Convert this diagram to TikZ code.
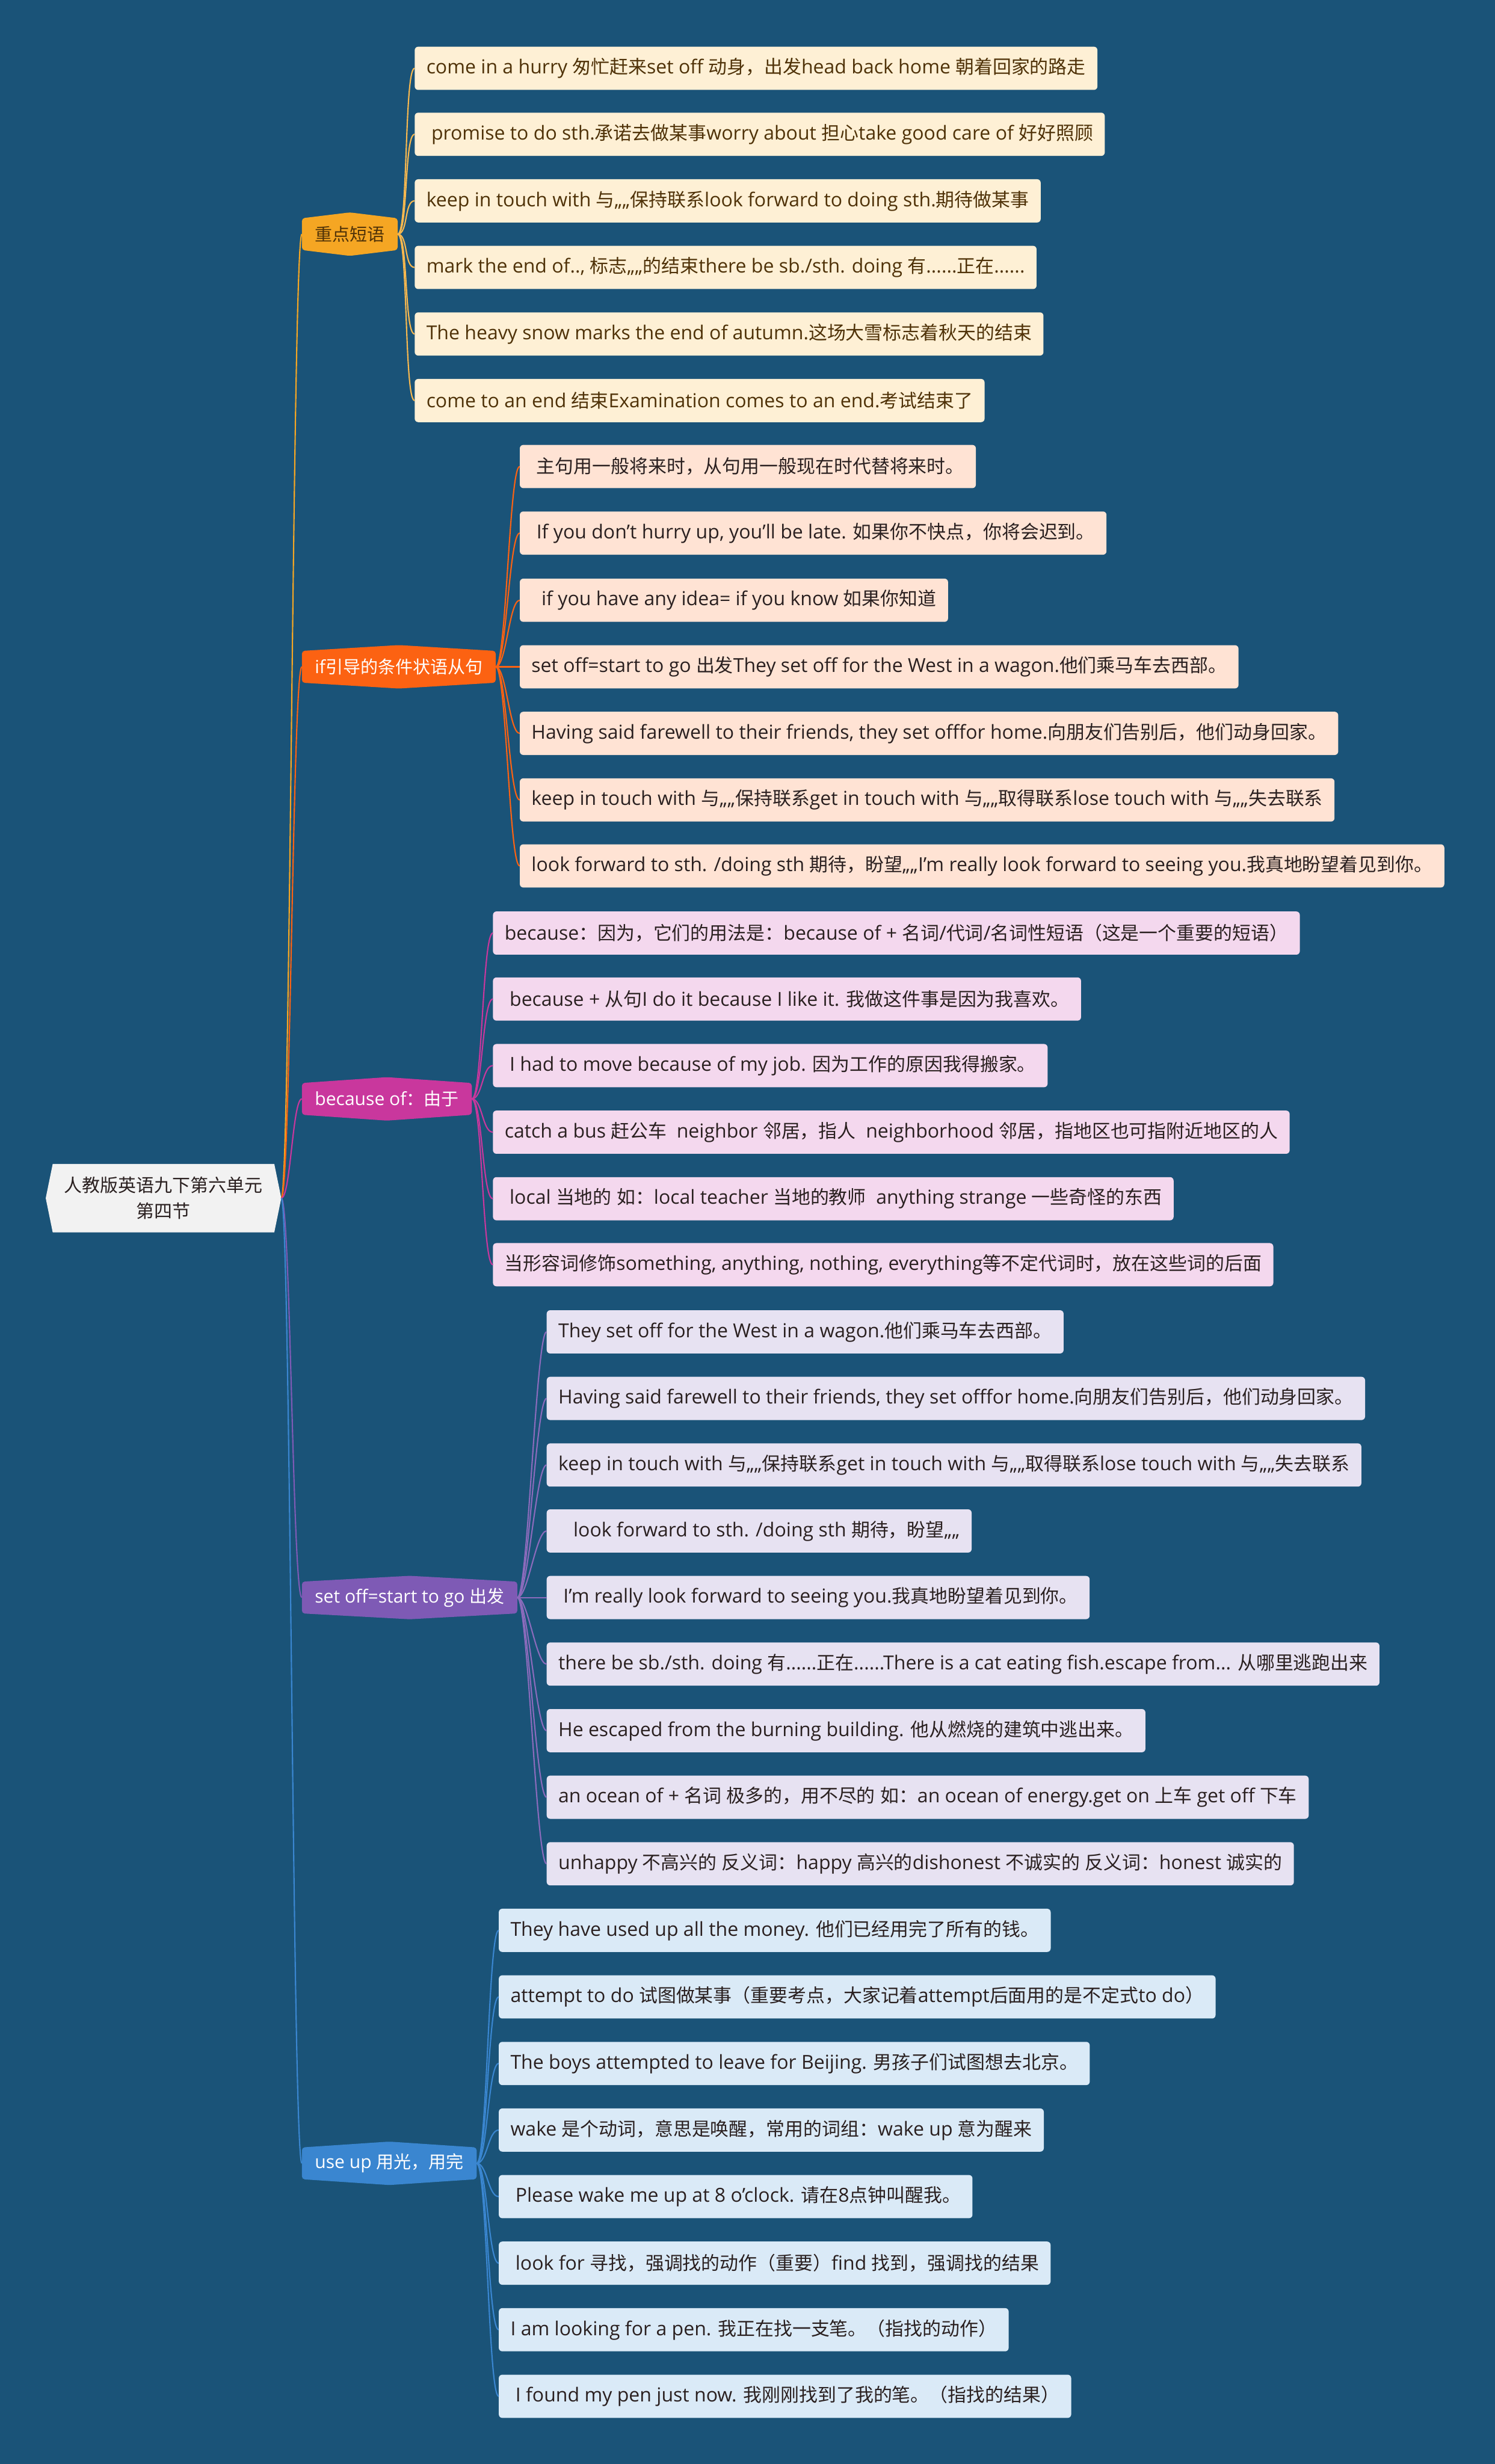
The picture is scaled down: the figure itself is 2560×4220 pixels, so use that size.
\documentclass[tikz,border=0pt]{standalone}
\usepackage{fontspec}
\setmainfont{Open Sans}
\newfontfamily\cjkfont{Noto Sans CJK SC}[Scale=0.965]
% CJK text in Noto, the rest in Open Sans
\XeTeXinterchartokenstate=1
\newXeTeXintercharclass\cjkcls
\newcount\cjkc
\cjkc="2E80 \loop\ifnum\cjkc<"A000 \XeTeXcharclass\cjkc=\cjkcls \advance\cjkc by 1 \repeat
\cjkc="FF00 \loop\ifnum\cjkc<"FFF0 \XeTeXcharclass\cjkc=\cjkcls \advance\cjkc by 1 \repeat
\XeTeXcharclass"201E=0
\XeTeXinterchartoks 0 \cjkcls = {\begingroup\cjkfont}
\XeTeXinterchartoks 4095 \cjkcls = {\begingroup\cjkfont}
\XeTeXinterchartoks \cjkcls 0 = {\endgroup}
\XeTeXinterchartoks \cjkcls 4095 = {\endgroup}
\usepackage{xcolor}
\usepackage{tikz}
\usetikzlibrary{backgrounds}
\definecolor{bgx}{HTML}{1A5378}
\definecolor{rootx}{HTML}{F2F2F2}
\definecolor{orangex}{HTML}{F5A623}
\definecolor{flamex}{HTML}{FC6212}
\definecolor{magentax}{HTML}{C9379D}
\definecolor{violetx}{HTML}{7E5AB5}
\definecolor{azurex}{HTML}{3A86D0}
\definecolor{creamx}{HTML}{FEF0D5}
\definecolor{peachx}{HTML}{FFE3D4}
\definecolor{pinkx}{HTML}{F4D8EE}
\definecolor{lilacx}{HTML}{E7E2F2}
\definecolor{icex}{HTML}{DAEAF7}
\definecolor{brownx}{HTML}{4F3208}
\definecolor{inkx}{HTML}{2A2020}
\tikzset{
  ln/.style={line width=2.2pt},
  hub/.style={anchor=west,minimum height=54pt,inner xsep=22pt,font=\fontsize{31pt}{37pt}\selectfont},
  leaf/.style={anchor=west,minimum height=74pt,inner xsep=20pt,rounded corners=6pt,text=inkx,font=\fontsize{33pt}{40pt}\selectfont}
}
\begin{document}
\begin{tikzpicture}[x=1pt,y=-1pt]
\useasboundingbox (0,0) rectangle (2560,4220);
\begin{scope}[on background layer]
\fill[bgx] (0,0) rectangle (2560,4220);
\end{scope}
% root
\node[minimum width=379pt,minimum height=117pt,align=center,text=inkx,font=\fontsize{32pt}{44pt}\selectfont] (rt) at (280,2052) {人教版英语九下第六单元\\第四节};
\coordinate (rtx) at ([xshift=12pt]rt.east);
\begin{scope}[on background layer]
\fill[rootx] (rt.north west) -- (rt.north east) -- (rtx) -- (rt.south east) -- (rt.south west) -- ([xshift=-12pt]rt.west) -- cycle;
\end{scope}
% branches
\node[hub,text=brownx] (hb1) at (517,401) {重点短语};
\node[hub,text=white] (hb2) at (517,1142) {if引导的条件状语从句};
\node[hub,text=white] (hb3) at (517,1882) {because of：由于};
\node[hub,text=white] (hb4) at (517,2736) {set off=start to go 出发};
\node[hub,text=white] (hb5) at (517,3705) {use up 用光，用完};
\begin{scope}[on background layer,rounded corners=5pt]
\fill[orangex] (hb1.north west) -- ([yshift=10pt]hb1.north) -- (hb1.north east) -- (hb1.south east) -- ([yshift=-10pt]hb1.south) -- (hb1.south west) -- cycle;
\fill[flamex] (hb2.north west) -- ([yshift=10pt]hb2.north) -- (hb2.north east) -- (hb2.south east) -- ([yshift=-10pt]hb2.south) -- (hb2.south west) -- cycle;
\fill[magentax] (hb3.north west) -- ([yshift=10pt]hb3.north) -- (hb3.north east) -- (hb3.south east) -- ([yshift=-10pt]hb3.south) -- (hb3.south west) -- cycle;
\fill[violetx] (hb4.north west) -- ([yshift=10pt]hb4.north) -- (hb4.north east) -- (hb4.south east) -- ([yshift=-10pt]hb4.south) -- (hb4.south west) -- cycle;
\fill[azurex] (hb5.north west) -- ([yshift=10pt]hb5.north) -- (hb5.north east) -- (hb5.south east) -- ([yshift=-10pt]hb5.south) -- (hb5.south west) -- cycle;
\end{scope}
\draw[ln,orangex] (rtx) .. controls +(16,0) and +(-16,0) .. (hb1.west);
\draw[ln,flamex] (rtx) .. controls +(16,0) and +(-16,0) .. (hb2.west);
\draw[ln,magentax] (rtx) .. controls +(16,0) and +(-16,0) .. (hb3.west);
\draw[ln,violetx] (rtx) .. controls +(16,0) and +(-16,0) .. (hb4.west);
\draw[ln,azurex] (rtx) .. controls +(16,0) and +(-16,0) .. (hb5.west);
% 重点短语
\node[leaf,fill=creamx,text=brownx] (p1) at (710,117) {come in a hurry 匆忙赶来set off 动身，出发head back home 朝着回家的路走};
\node[leaf,fill=creamx,text=brownx] (p2) at (710,230) {\ promise to do sth.承诺去做某事worry about 担心take good care of 好好照顾};
\node[leaf,fill=creamx,text=brownx] (p3) at (710,344) {keep in touch with 与„„保持联系look forward to doing sth.期待做某事};
\node[leaf,fill=creamx,text=brownx] (p4) at (710,458) {mark the end of.., 标志„„的结束there be sb./sth. doing 有......正在......};
\node[leaf,fill=creamx,text=brownx] (p5) at (710,572) {The heavy snow marks the end of autumn.这场大雪标志着秋天的结束};
\node[leaf,fill=creamx,text=brownx] (p6) at (710,686) {come to an end 结束Examination comes to an end.考试结束了};
\foreach \k in {1,...,6} \draw[ln,orangex!80!white] (hb1.east) .. controls +(18,0) and +(-18,0) .. (p\k.west);
% if引导的条件状语从句
\node[leaf,fill=peachx] (q1) at (890,799) {\ 主句用一般将来时，从句用一般现在时代替将来时。};
\node[leaf,fill=peachx] (q2) at (890,913) {\ If you don't hurry up, you'll be late. 如果你不快点，你将会迟到。};
\node[leaf,fill=peachx] (q3) at (890,1028) {\ \ if you have any idea= if you know 如果你知道};
\node[leaf,fill=peachx] (q4) at (890,1142) {set off=start to go 出发They set off for the West in a wagon.他们乘马车去西部。};
\node[leaf,fill=peachx] (q5) at (890,1256) {Having said farewell to their friends, they set offfor home.向朋友们告别后，他们动身回家。};
\node[leaf,fill=peachx] (q6) at (890,1370) {keep in touch with 与„„保持联系get in touch with 与„„取得联系lose touch with 与„„失去联系};
\node[leaf,fill=peachx] (q7) at (890,1483) {look forward to sth. /doing sth 期待，盼望„„I'm really look forward to seeing you.我真地盼望着见到你。};
\foreach \k in {1,...,7} \draw[ln,flamex] (hb2.east) .. controls +(18,0) and +(-18,0) .. (q\k.west);
% because of
\node[leaf,fill=pinkx] (r1) at (844,1598) {because：因为，它们的用法是：because of + 名词/代词/名词性短语（这是一个重要的短语）};
\node[leaf,fill=pinkx] (r2) at (844,1711) {\ because + 从句I do it because I like it. 我做这件事是因为我喜欢。};
\node[leaf,fill=pinkx] (r3) at (844,1825) {\ I had to move because of my job. 因为工作的原因我得搬家。};
\node[leaf,fill=pinkx] (r4) at (844,1939) {catch a bus 赶公车\ \ neighbor 邻居，指人\ \ neighborhood 邻居，指地区也可指附近地区的人};
\node[leaf,fill=pinkx] (r5) at (844,2053) {\ local 当地的 如：local teacher 当地的教师\ \ anything strange 一些奇怪的东西};
\node[leaf,fill=pinkx] (r6) at (844,2166) {当形容词修饰something, anything, nothing, everything等不定代词时，放在这些词的后面};
\foreach \k in {1,...,6} \draw[ln,magentax] (hb3.east) .. controls +(18,0) and +(-18,0) .. (r\k.west);
% set off
\node[leaf,fill=lilacx] (s1) at (936,2281) {They set off for the West in a wagon.他们乘马车去西部。};
\node[leaf,fill=lilacx] (s2) at (936,2395) {Having said farewell to their friends, they set offfor home.向朋友们告别后，他们动身回家。};
\node[leaf,fill=lilacx] (s3) at (936,2509) {keep in touch with 与„„保持联系get in touch with 与„„取得联系lose touch with 与„„失去联系};
\node[leaf,fill=lilacx] (s4) at (936,2622) {\ \ \ look forward to sth. /doing sth 期待，盼望„„};
\node[leaf,fill=lilacx] (s5) at (936,2736) {\ I'm really look forward to seeing you.我真地盼望着见到你。};
\node[leaf,fill=lilacx] (s6) at (936,2850) {there be sb./sth. doing 有......正在......There is a cat eating fish.escape from... 从哪里逃跑出来};
\node[leaf,fill=lilacx] (s7) at (936,2964) {He escaped from the burning building. 他从燃烧的建筑中逃出来。};
\node[leaf,fill=lilacx] (s8) at (936,3078) {an ocean of + 名词 极多的，用不尽的 如：an ocean of energy.get on 上车 get off 下车};
\node[leaf,fill=lilacx] (s9) at (936,3192) {unhappy 不高兴的 反义词：happy 高兴的dishonest 不诚实的 反义词：honest 诚实的};
\foreach \k in {1,...,9} \draw[ln,violetx!90!white] (hb4.east) .. controls +(18,0) and +(-18,0) .. (s\k.west);
% use up
\node[leaf,fill=icex] (u1) at (854,3306) {They have used up all the money. 他们已经用完了所有的钱。};
\node[leaf,fill=icex] (u2) at (854,3420) {attempt to do 试图做某事（重要考点，大家记着attempt后面用的是不定式to do）};
\node[leaf,fill=icex] (u3) at (854,3534) {The boys attempted to leave for Beijing. 男孩子们试图想去北京。};
\node[leaf,fill=icex] (u4) at (854,3648) {wake 是个动词，意思是唤醒，常用的词组：wake up 意为醒来};
\node[leaf,fill=icex] (u5) at (854,3762) {\ Please wake me up at 8 o'clock. 请在8点钟叫醒我。};
\node[leaf,fill=icex] (u6) at (854,3876) {\ look for 寻找，强调找的动作（重要）find 找到，强调找的结果};
\node[leaf,fill=icex] (u7) at (854,3990) {I am looking for a pen. 我正在找一支笔。（指找的动作）};
\node[leaf,fill=icex] (u8) at (854,4104) {\ I found my pen just now. 我刚刚找到了我的笔。（指找的结果）};
\foreach \k in {1,...,8} \draw[ln,azurex] (hb5.east) .. controls +(18,0) and +(-18,0) .. (u\k.west);
\end{tikzpicture}
\end{document}
